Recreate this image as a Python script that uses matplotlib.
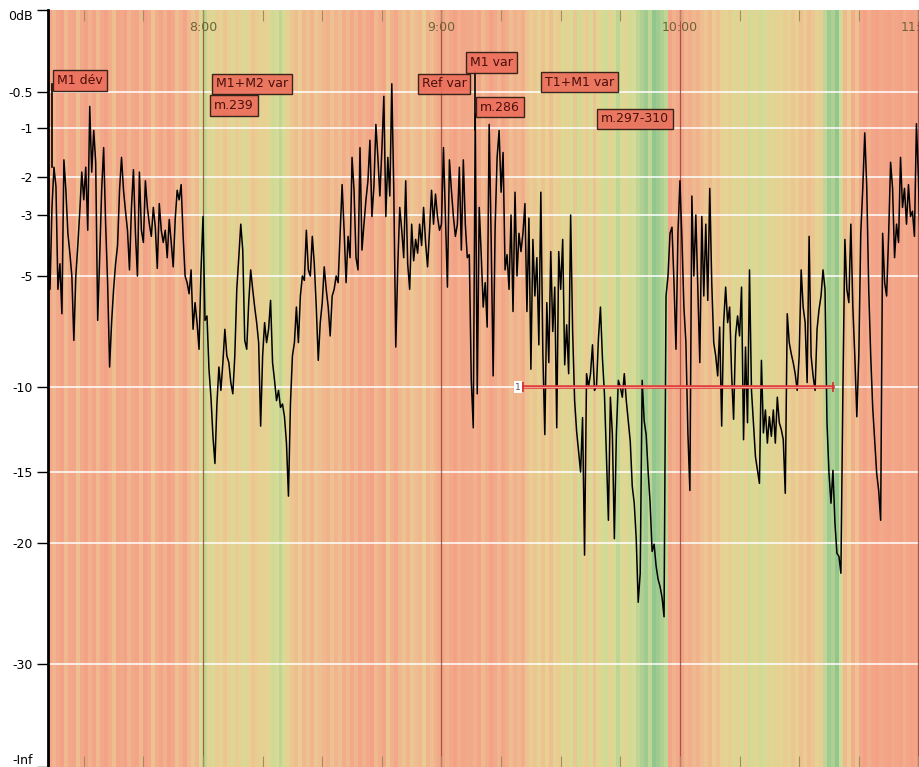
import numpy as np
import matplotlib
matplotlib.use('Agg')
import matplotlib.pyplot as plt
from matplotlib import transforms
from matplotlib.colors import LinearSegmentedColormap

# time axis: minutes after 7:00
t_start = 21.0
t_step = 0.5      # one level reading every 30 s
t_end = 240.5

# level in dB, one value per 30 s from 7:21
level_db = [
    -3.8, -5.6, -2.8, -1.8, -2.25, -5.6, -4.6, -6.7, -1.65, -2.35,
    -3.6, -4.25, -5.0, -7.9, -5.0, -4.0, -2.9, -1.9, -2.6, -1.8,
    -3.5, -0.7, -1.9, -1.05, -1.7, -7.0, -4.4, -2.35, -1.4, -3.3,
    -5.3, -9.1, -7.1, -5.6, -4.6, -4.0, -2.35, -1.6, -2.35, -2.9,
    -3.5, -4.8, -2.8, -1.85, -3.6, -5.0, -1.9, -3.5, -3.9, -2.1,
    -2.8, -3.3, -3.7, -2.8, -3.4, -4.75, -2.7, -3.5, -3.9, -3.5,
    -4.4, -3.15, -3.9, -4.7, -3.15, -2.35, -2.6, -2.2, -3.7, -5.0,
    -5.3, -5.8, -4.8, -7.4, -6.2, -7.1, -8.3, -4.8, -3.05, -7.0,
    -6.8, -9.2, -10.6, -12.9, -14.5, -11.0, -9.1, -10.2, -8.9, -7.4,
    -8.6, -8.9, -9.8, -10.4, -8.6, -5.6, -4.4, -3.3, -4.15, -7.9,
    -8.3, -6.2, -4.8, -5.6, -6.4, -7.1, -8.0, -12.3, -8.6, -7.1,
    -8.0, -7.4, -6.1, -8.9, -9.7, -10.8, -10.2, -11.2, -11.0, -11.75,
    -13.3, -16.7, -11.0, -8.6, -8.0, -6.4, -8.0, -5.9, -5.0, -5.2,
    -3.5, -4.8, -5.0, -3.7, -4.6, -6.4, -8.8, -7.1, -6.2, -4.7,
    -5.6, -6.4, -7.7, -5.9, -5.6, -5.0, -5.3, -3.6, -2.2, -3.5,
    -5.3, -3.7, -4.4, -1.6, -2.35, -4.4, -4.8, -1.4, -4.15, -3.3,
    -2.6, -2.1, -1.25, -3.05, -2.25, -0.95, -1.6, -2.5, -1.45, -0.56,
    -3.05, -1.6, -2.5, -0.45, -2.35, -8.2, -4.7, -2.8, -3.5, -4.4,
    -2.1, -4.6, -5.6, -3.3, -4.5, -3.8, -4.25, -3.3, -4.0, -2.8,
    -3.9, -4.7, -3.5, -2.35, -3.3, -2.45, -3.05, -3.5, -3.3, -1.4,
    -3.05, -5.5, -1.65, -2.35, -3.05, -3.7, -3.3, -1.8, -4.15, -1.65,
    -3.3, -4.4, -4.3, -9.7, -12.4, -0.8, -10.4, -2.8, -4.3, -6.4,
    -5.3, -7.3, -0.95, -3.8, -9.5, -3.4, -1.6, -1.05, -2.4, -1.5,
    -4.8, -4.3, -5.6, -3.0, -6.6, -2.4, -5.0, -3.6, -4.2, -3.6,
    -2.7, -6.6, -3.1, -9.2, -3.8, -5.9, -4.4, -8.1, -2.4, -8.4,
    -12.8, -6.2, -8.9, -4.2, -7.5, -5.5, -12.4, -4.2, -5.6, -3.8,
    -9.0, -7.2, -9.4, -3.0, -7.5, -10.8, -12.6, -13.8, -15.0, -11.8,
    -21.0, -9.4, -10.0, -9.4, -8.1, -10.2, -10.0, -7.8, -6.4, -8.7,
    -10.4, -14.0, -18.4, -10.6, -12.8, -19.7, -12.8, -9.7, -10.0, -10.6,
    -9.4, -10.8, -12.0, -13.2, -16.0, -17.2, -19.7, -24.9, -22.5, -9.7,
    -12.0, -12.8, -15.0, -17.2, -20.7, -20.1, -21.9, -23.0, -23.6, -24.5,
    -26.1, -5.9, -5.0, -3.6, -3.4, -5.3, -8.3, -3.6, -2.1, -3.8,
    -6.4, -8.0, -12.7, -16.3, -2.5, -5.0, -3.0, -5.6, -8.9, -3.05,
    -5.9, -3.3, -6.1, -2.3, -5.3, -8.0, -8.6, -9.5, -7.3, -12.3,
    -7.1, -5.5, -7.1, -6.4, -9.4, -11.9, -7.7, -6.8, -7.7, -5.5,
    -13.1, -8.2, -12.1, -4.8, -10.2, -12.1, -14.1, -14.9, -15.8, -8.8,
    -12.7, -11.35, -13.3, -11.75, -12.9, -11.35, -13.3, -10.6, -12.1, -12.5,
    -13.1, -16.5, -6.7, -8.0, -8.5, -8.9, -9.4, -10.2, -8.6, -4.8,
    -6.4, -7.1, -9.8, -3.7, -8.6, -9.5, -10.2, -7.4, -6.5, -5.9,
    -4.8, -5.6, -12.1, -15.1, -17.2, -14.9, -18.6, -20.85, -21.1, -22.5,
    -10.2, -3.8, -5.6, -6.2, -3.3, -6.4, -8.6, -11.75, -8.6, -3.6,
    -2.3, -1.1, -2.25, -5.6, -8.6, -11.2, -13.1, -15.1, -16.3, -18.4,
    -3.6, -5.3, -5.9, -3.7, -1.7, -2.3, -4.4, -3.3, -3.9, -1.6,
    -2.8, -2.3, -3.3, -2.2, -3.05, -2.9, -3.7, -0.94, -2.0, -4.15,
]

# background colour score per minute from 7:21 (0 = red, 1 = green)
stripe_score = [
    0.05, 0.25, 0.1, 0.0, 0.3, 0.1, 0.05, 0.35, 0.1, 0.0,
    0.2, 0.05, 0.3, 0.1, 0.0, 0.15, 0.35, 0.05, 0.1, 0.0,
    0.25, 0.1, 0.05, 0.3, 0.0, 0.1, 0.4, 0.15, 0.05, 0.2,
    0.0, 0.1, 0.35, 0.2, 0.05, 0.3, 0.45, 0.3,
    0.7, 0.85, 0.6, 0.75,
    0.5, 0.6, 0.45, 0.55, 0.7, 0.5, 0.6, 0.75, 0.55,
    0.45, 0.5, 0.6, 0.55, 0.65,
    0.8, 0.75, 0.85, 0.7, 0.6,
    0.45, 0.35, 0.5, 0.3, 0.4, 0.25, 0.45, 0.35, 0.3, 0.2, 0.4, 0.25, 0.35, 0.15, 0.3,
    0.1, 0.25, 0.05, 0.2, 0.1, 0.0, 0.3, 0.15, 0.05, 0.45, 0.2, 0.1,
    0.3, 0.4, 0.25, 0.45, 0.35, 0.3, 0.5, 0.25, 0.35, 0.2,
    0.1, 0.05, 0.2, 0.1, 0.0, 0.15, 0.05, 0.1,
    0.1, 0.2, 0.05, 0.3, 0.15, 0.0, 0.1, 0.25, 0.05, 0.15, 0.35, 0.2, 0.3, 0.15, 0.4,
    0.5, 0.45, 0.6, 0.4, 0.55, 0.35, 0.6, 0.5,
    0.7, 0.55, 0.75, 0.45, 0.8, 0.6, 0.5, 0.75, 0.4, 0.65,
    0.7, 0.8, 0.6, 0.75, 0.85, 0.7, 0.65, 0.8, 0.75, 0.85,
    0.9, 0.95, 0.85, 1.0, 0.95, 0.9, 0.85,
    0.05, 0.2, 0.1, 0.0, 0.25, 0.15, 0.3, 0.2,
    0.35, 0.45, 0.3, 0.5, 0.4,
    0.55, 0.65, 0.5, 0.7, 0.6, 0.75, 0.55, 0.8, 0.7, 0.65,
    0.8, 0.75, 0.6, 0.7, 0.55, 0.65, 0.5, 0.6, 0.45, 0.55,
    0.4, 0.5, 0.35, 0.45, 0.6, 0.5,
    0.85, 0.95, 0.9, 1.0, 0.8,
    0.3, 0.5, 0.15, 0.4,
    0.1, 0.0, 0.15, 0.05, 0.0, 0.1, 0.05, 0.0, 0.1, 0.05,
    0.0, 0.15, 0.05, 0.0, 0.05, 0.1,
]

# meter scale: dB value -> height above the -Inf line (px)
scale_db = [-60, -30, -20, -15, -10, -5, -3, -2, -1, -0.5, 0]
scale_pos = [0, 103, 224, 295, 380, 491, 552, 590, 639, 675, 757]

tick_db = [0, -0.5, -1, -2, -3, -5, -10, -15, -20, -30, -60]
tick_labels = ['0dB', '-0.5', '-1', '-2', '-3', '-5', '-10', '-15', '-20', '-30', '-Inf']

hour_marks = [60, 120, 180, 240]
hour_labels = ['8:00', '9:00', '10:00', '11:00']

# text markers: (label, minute, dB)
markers = [
    ('M1 dév', 23.3, -0.43),
    ('M1+M2 var', 63.3, -0.45),
    ('m.239', 62.8, -0.69),
    ('Ref var', 115.1, -0.45),
    ('M1 var', 127.2, -0.32),
    ('m.286', 129.7, -0.71),
    ('T1+M1 var', 146.0, -0.44),
    ('m.297-310', 160.1, -0.875),
]
# marker stems: (minute, dB top, dB bottom)
stems = [(22.0, -0.45, -1.8), (128.4, -0.38, -1.05)]

region_start = 140.5
region_end = 218.5
region_db = -10


def fwd(v):
    return np.interp(v, scale_db, scale_pos)


def inv(u):
    return np.interp(u, scale_pos, scale_db)


def main():
    fig = plt.figure(figsize=(9.2, 7.67), dpi=100, facecolor='white')
    ax = fig.add_axes([48 / 920, 0, 872 / 920, 757 / 767])
    ax.set_yscale('function', functions=(fwd, inv))
    ax.set_xlim(t_start, t_end - 0.1)
    ax.set_ylim(-60, 0)

    # coloured background stripes
    cmap = LinearSegmentedColormap.from_list('meter', [
        (0.0, '#F3A287'), (0.3, '#F0B88F'), (0.55, '#E8CF92'),
        (0.78, '#D5DC95'), (1.0, '#92C68F')])
    edges = t_start + np.arange(len(stripe_score) + 1)
    ax.pcolormesh(edges, [-60, 0], np.array([stripe_score]), cmap=cmap,
                  vmin=0, vmax=1, shading='flat', zorder=0)

    for v in tick_db[1:-1]:
        ax.axhline(v, color='white', lw=1.3, alpha=0.85, zorder=1)

    trans = transforms.blended_transform_factory(ax.transData, ax.transAxes)
    for h, lab in zip(hour_marks, hour_labels):
        ax.axvline(h, color='#8a3a28', lw=0.9, alpha=0.75, zorder=1.5)
        ax.text(h, 0.9775, lab, transform=trans, ha='center', va='center',
                fontsize=9, color='#6e6238', zorder=2)

    t = t_start + t_step * np.arange(len(level_db))
    ax.plot(t, level_db, color='black', lw=1.1, zorder=3)

    for x, y0, y1 in stems:
        ax.plot([x, x], [y0, y1], color='black', lw=1.2, zorder=3)

    # loop region
    ax.plot([region_start, region_end], [region_db, region_db],
            color='#e0403a', lw=2.6, zorder=4)
    ax.plot([region_start, region_end], [region_db, region_db],
            color='#f6b0a8', lw=0.6, zorder=4)
    ax.plot([region_start, region_end], [region_db, region_db], ls='none',
            marker='|', ms=7, mew=1.2, color='#d03030', zorder=4)
    ax.text(region_start - 1.3, region_db, '1', fontsize=6.5, color='#555555',
            ha='center', va='center', zorder=5,
            bbox=dict(boxstyle='square,pad=0.15', fc='white', ec='none'))

    for lab, x, y in markers:
        ax.text(x, y, lab, fontsize=9, color='#4a0f0a', ha='left',
                va='center', zorder=5,
                bbox=dict(boxstyle='square,pad=0.3', fc='#EC6F5C',
                          ec='#2a1a12', lw=1.0, alpha=0.92))

    # axis styling
    ax.set_yticks(tick_db)
    ax.set_yticklabels(tick_labels)
    ax.set_yticks([], minor=True)
    ax.tick_params(axis='y', length=8, width=1, color='black',
                   labelsize=9, pad=3)
    labs = ax.get_yticklabels()
    labs[0].set_va('top')
    labs[-1].set_va('bottom')

    ax.set_xticks(np.arange(30, 241, 15))
    ax.set_xticklabels([])
    ax.tick_params(axis='x', direction='in', top=True, bottom=True,
                   length=8, width=0.8, color='#a88a60')

    for s in ['top', 'right', 'bottom']:
        ax.spines[s].set_visible(False)
    ax.spines['left'].set_linewidth(2)

    fig.savefig('out.png', dpi=100, facecolor='white')


if __name__ == '__main__':
    main()
